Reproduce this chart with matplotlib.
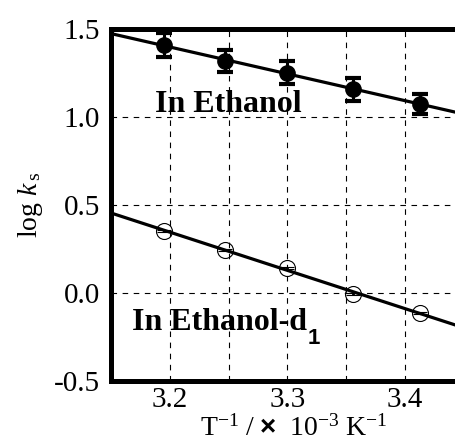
import numpy as np
import matplotlib
matplotlib.use("Agg")
import matplotlib.pyplot as plt

plt.rcParams["font.family"] = ["Liberation Serif", "DejaVu Serif"]
plt.rcParams["mathtext.fontset"] = "custom"
plt.rcParams["mathtext.rm"] = "Liberation Serif"
plt.rcParams["mathtext.it"] = "Liberation Serif:italic"
plt.rcParams["mathtext.bf"] = "Liberation Sans:bold"

# data (1/T in 1e-3 K^-1)
inv_t = [3.195, 3.247, 3.300, 3.356, 3.413]
log_ks_etoh = [1.409, 1.318, 1.252, 1.157, 1.074]
err_etoh = [0.068, 0.062, 0.066, 0.064, 0.057]
log_ks_etod = [0.352, 0.244, 0.144, -0.006, -0.115]
err_etod = [0.006, 0.006, 0.006, 0.006, 0.006]

x_ticks = [3.2, 3.3, 3.4]
x_ticklabels = ["3.2", "3.3", "3.4"]
y_ticks = [-0.5, 0.0, 0.5, 1.0, 1.5]
y_ticklabels = ["-0.5", "0.0", "0.5", "1.0", "1.5"]
x_grid = [3.2, 3.25, 3.3, 3.35, 3.4]
y_grid = [0.0, 0.5, 1.0]

xlim = (3.15, 3.4434)
ylim = (-0.5, 1.5)

fig = plt.figure(figsize=(4.56, 4.43), dpi=100)
ax = fig.add_axes([0.2434, 0.140, 0.7566, 0.7945])

# grid
for gx in x_grid:
    ax.axvline(gx, color="black", lw=0.8, ls=(0, (5, 5)), zorder=1)
for gy in y_grid:
    ax.axhline(gy, color="black", lw=0.8, ls=(0, (5, 5)), zorder=1)

# fit lines
xx = np.array(xlim)
for ys in (log_ks_etoh, log_ks_etod):
    p = np.polyfit(inv_t, ys, 1)
    ax.plot(xx, np.polyval(p, xx), color="black", lw=2.3, zorder=2)

ax.errorbar(inv_t, log_ks_etoh, yerr=err_etoh, fmt="o", color="black",
            ms=11, elinewidth=2.2, capsize=5.5, capthick=3, zorder=3)
ax.errorbar(inv_t, log_ks_etod, yerr=err_etod, fmt="o", color="black",
            mfc="none", mec="black", mew=0.8, ms=11.5,
            elinewidth=2.0, capsize=5, capthick=2.5, zorder=3)

ax.text(3.25, 1.028, "In Ethanol", fontsize=23, fontweight="bold",
        ha="center", va="baseline")
t2 = ax.text(3.168, -0.210, "In Ethanol-d", fontsize=23,
             fontweight="bold", ha="left", va="baseline")
ax.annotate("1", xy=(1, 0), xycoords=t2, xytext=(0.5, -5),
            textcoords="offset points", fontsize=16, fontweight="bold",
            family="Liberation Sans", ha="left", va="baseline")

ax.set_xlim(*xlim)
ax.set_ylim(*ylim)
ax.set_xticks(x_ticks)
ax.set_xticklabels(x_ticklabels)
ax.set_yticks(y_ticks)
ax.set_yticklabels(y_ticklabels)
ax.tick_params(length=0, labelsize=21)
ax.tick_params(axis="y", pad=8)
ax.tick_params(axis="x", pad=4)

for s in ("left", "top", "bottom"):
    ax.spines[s].set_linewidth(3.6)
ax.spines["right"].set_visible(False)

ax.set_ylabel(r"log $k_{\,\rm s}$", fontsize=20)
ax.yaxis.set_label_coords(-0.19, 0.5)
ax.set_xlabel(r"$\mathrm{T}^{-1}\ /\ \mathbf{\times}\ \ 10^{-3}\ \mathrm{K}^{-1}$",
              fontsize=20)
ax.xaxis.set_label_coords(0.53, -0.097)
ax.xaxis.label.set_va("top")

fig.savefig("out.png", dpi=100)
